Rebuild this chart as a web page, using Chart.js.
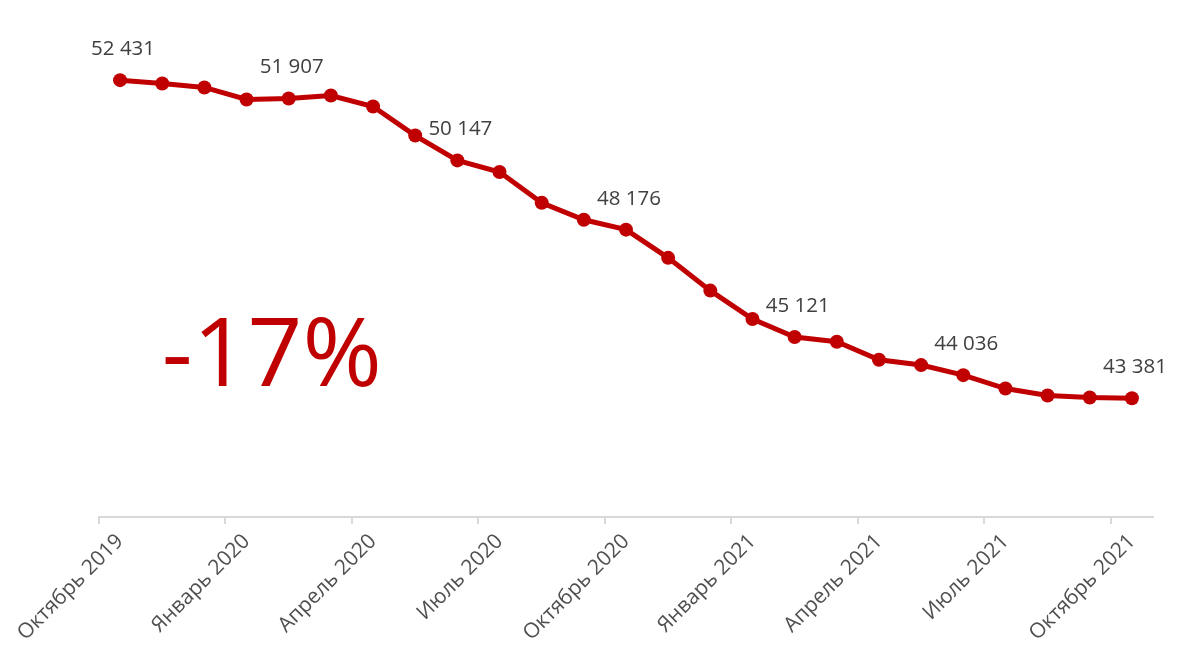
<!DOCTYPE html>
<html>
<head>
<meta charset="utf-8">
<script src="https://cdn.jsdelivr.net/npm/chart.js@4"></script>
<style>
html,body{margin:0;padding:0;background:#fff;}
#wrap{width:1177px;height:662px;position:relative;}
</style>
</head>
<body>
<div id="wrap"><canvas id="c"></canvas></div>
<script>
const months = ["Октябрь 2019","Ноябрь 2019","Декабрь 2019","Январь 2020","Февраль 2020","Март 2020","Апрель 2020","Май 2020","Июнь 2020","Июль 2020","Август 2020","Сентябрь 2020","Октябрь 2020","Ноябрь 2020","Декабрь 2020","Январь 2021","Февраль 2021","Март 2021","Апрель 2021","Май 2021","Июнь 2021","Июль 2021","Август 2021","Сентябрь 2021","Октябрь 2021"];
const values = [52431,52337,52223,51881,51907,51995,51681,50854,50147,49816,48943,48458,48176,47374,46442,45635,45121,44987,44474,44323,44036,43655,43456,43399,43381];
const labelEvery = 3;      // x tick label step
const valueLabelEvery = 4; // data label step
const yMin = 40000, yMax = 54000;
const changeText = "-17%";

const fmt = v => String(v).replace(/\B(?=(\d{3})+(?!\d))/g, " ");

const overlay = {
  id: 'overlay',
  afterDatasetsDraw(chart) {
    const ctx = chart.ctx;
    const meta = chart.getDatasetMeta(0);
    ctx.save();
    ctx.fillStyle = '#404040';
    ctx.font = '20.5px "Open Sans"';
    ctx.textAlign = 'center';
    ctx.textBaseline = 'middle';
    meta.data.forEach((pt, i) => {
      if (i % valueLabelEvery === 0) {
        ctx.fillText(fmt(values[i]), pt.x + 3, pt.y - 31);
      }
    });
    const xs = chart.scales.x, ys = chart.scales.y;
    ctx.fillStyle = '#C00000';
    ctx.font = '96px "Open Sans"';
    ctx.textAlign = 'center';
    ctx.textBaseline = 'alphabetic';
    ctx.fillText(changeText, xs.getPixelForValue(3.6), ys.getPixelForValue(43720));
    ctx.restore();
  }
};

new Chart(document.getElementById('c'), {
  type: 'line',
  data: {
    labels: months,
    datasets: [{
      data: values,
      borderColor: '#C00000',
      backgroundColor: '#C00000',
      borderWidth: 5,
      pointRadius: 7,
      pointHoverRadius: 7,
      pointBorderWidth: 0,
      tension: 0
    }]
  },
  options: {
    responsive: true,
    maintainAspectRatio: false,
    animation: false,
    events: [],
    layout: { padding: { left: 99, right: 24, top: 25, bottom: 0 } },
    plugins: { legend: { display: false }, tooltip: { enabled: false } },
    scales: {
      x: {
        offset: true,
        grid: {
          offset: true,
          drawOnChartArea: false,
          drawTicks: true,
          tickLength: 7,
          lineWidth: 2,
          color: c => (c.index % labelEvery === 0 && c.index < months.length) ? '#D9D9D9' : 'rgba(0,0,0,0)'
        },
        border: { display: true, color: '#D9D9D9', width: 2 },
        ticks: {
          autoSkip: false,
          minRotation: 45,
          maxRotation: 45,
          color: '#505050',
          font: { family: '"Open Sans"', size: 21 },
          padding: 5,
          callback: (v, i) => i % labelEvery === 0 ? months[i] : ''
        },
        afterFit: s => { s.height = 145; }
      },
      y: {
        display: false,
        min: yMin,
        max: yMax
      }
    }
  },
  plugins: [overlay]
});
</script>
</body>
</html>
